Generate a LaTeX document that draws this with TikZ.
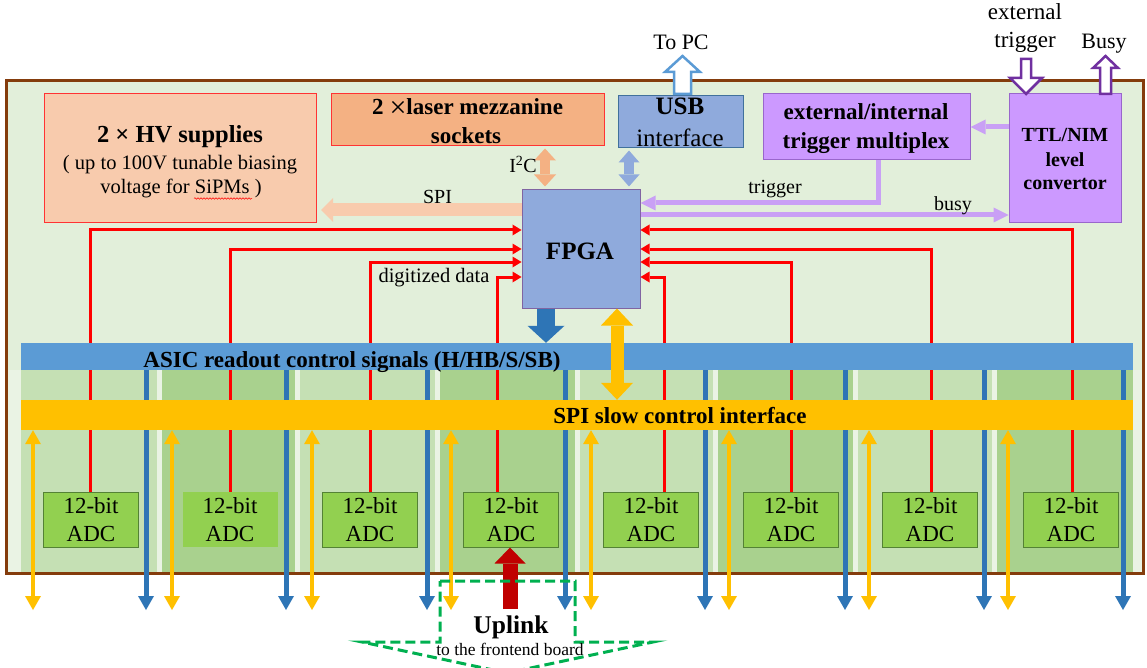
\documentclass[tikz,border=0pt]{standalone}
\usepackage{fontspec}
\setmainfont{Liberation Serif}
\usetikzlibrary{arrows.meta,calc,decorations.pathmorphing}
\definecolor{boardfill}{HTML}{E2EFDA}
\definecolor{boardline}{HTML}{843C0C}
\definecolor{hvfill}{HTML}{F8CBAD}
\definecolor{laserfill}{HTML}{F4B183}
\definecolor{boxred}{HTML}{FF3333}
\definecolor{usbfill}{HTML}{8FAADC}
\definecolor{usbline}{HTML}{41719C}
\definecolor{fpgaline}{HTML}{8064A2}
\definecolor{purpfill}{HTML}{CC99FF}
\definecolor{purpline}{HTML}{9966CC}
\definecolor{purparrow}{HTML}{C9A0F5}
\definecolor{openpurp}{HTML}{7030A0}
\definecolor{lblue}{HTML}{5B9BD5}
\definecolor{dblue}{HTML}{2E75B6}
\definecolor{orng}{HTML}{FFC000}
\definecolor{collight}{HTML}{C5E0B4}
\definecolor{coldark}{HTML}{A9D18E}
\definecolor{colstrip}{HTML}{EAF3E4}
\definecolor{adcfill}{HTML}{92D050}
\definecolor{adcline}{HTML}{548235}
\definecolor{redln}{HTML}{FF0000}
\definecolor{uplinkred}{HTML}{C00000}
\definecolor{dashgreen}{HTML}{00B050}
\newcommand\myfs[1]{\fontsize{#1}{#1}\selectfont}
\tikzset{
  txt/.style={inner sep=0pt, anchor=base},
  box/.style={draw, rectangle, inner sep=0pt, line width=1pt},
  hvbox/.style={box, draw=boxred, fill=hvfill},
  laserbox/.style={box, draw=boxred, fill=laserfill},
  usbbox/.style={box, draw=usbline, fill=usbfill},
  fpgabox/.style={box, draw=fpgaline, fill=usbfill},
  purpbox/.style={box, draw=purpline, fill=purpfill},
  bar/.style={rectangle, inner sep=0pt, minimum width=1112pt},
  adcbox/.style={box, draw=adcline, fill=adcfill, minimum width=95pt, minimum height=55pt, align=center, font=\fontsize{23}{28}\selectfont},
  adcnb/.style={adcbox, draw=none},
  redarr/.style={draw=redln, line width=3pt, -{Triangle[length=9pt,width=11pt,line width=0pt]}},
  bluedown/.style={draw=dblue, line width=5pt, -{Triangle[length=14pt,width=16pt,line width=0pt]}},
  orangedbl/.style={draw=orng, line width=3.5pt, {Triangle[length=14pt,width=16pt,line width=0pt]}-{Triangle[length=14pt,width=16pt,line width=0pt]}},
  purparr/.style={draw=purparrow, line width=5pt, -{Triangle[length=15pt,width=15pt,line width=0pt]}},
  openarr/.style={line width=2.5pt, fill=white, line join=miter},
}
\begin{document}
\begin{tikzpicture}[x=1pt,y=-1pt]
\useasboundingbox (0,0) rectangle (1147,668);
\clip (0,0) rectangle (1147,668);
% board
\draw[boardline, fill=boardfill, line width=3pt] (6.5,80.5) rectangle (1143.5,573.5);
% columns
\foreach \l/\r/\c in {21/157/collight, 162/295/coldark, 300/435/collight, 440/575/coldark, 580/713/collight, 718/853/coldark, 858/992/collight, 997/1133/coldark}
  \fill[\c] (\l,365) rectangle (\r,572);
\foreach \l/\r in {8/21,157/162,295/300,435/440,575/580,713/718,853/858,992/997,1133/1142}
  \fill[colstrip] (\l,370) rectangle (\r,572);
% boxes
\node[hvbox, minimum width=272pt, minimum height=129pt] (hv) at (180,158.5) {};
\node[laserbox, minimum width=273pt, minimum height=52pt] (laser) at (467.5,120) {};
\node[usbbox, minimum width=125pt, minimum height=52pt] (usb) at (680.5,122) {};
\node[fpgabox, minimum width=118pt, minimum height=118pt] (fpga) at (581,249) {};
\node[purpbox, minimum width=207pt, minimum height=66pt] (mux) at (866.5,127) {};
\node[purpbox, minimum width=112pt, minimum height=129pt] (ttl) at (1065,158.5) {};
% ADCs
\node[adcbox] (adc1) at (91,519.5) {12-bit\\ADC};
\node[adcnb] (adc2) at (230,519.5) {12-bit\\ADC};
\node[adcbox] (adc3) at (370,519.5) {12-bit\\ADC};
\node[adcbox] (adc4) at (511,519.5) {12-bit\\ADC};
\node[adcbox] (adc5) at (651,519.5) {12-bit\\ADC};
\node[adcbox] (adc6) at (791,519.5) {12-bit\\ADC};
\node[adcbox] (adc7) at (930,519.5) {12-bit\\ADC};
\node[adcbox] (adc8) at (1071,519.5) {12-bit\\ADC};
% digitized data lines
\foreach \i/\dx/\dy in {1/-1/-19, 2/0/0, 3/0/13, 4/-14/28}
  \draw[redarr] ($(adc\i.north)+(\dx,0)$) |- ($(fpga.west)+(0,\dy)$);
\foreach \i/\dx/\dy in {5/13/28, 6/0/13, 7/1/0, 8/1/-19}
  \draw[redarr] ($(adc\i.north)+(\dx,0)$) |- ($(fpga.east)+(0,\dy)$);
% bars
\node[bar, fill=lblue, minimum height=27pt] (asic) at (577,356.5) {};
\foreach \x [count=\k] in {146,286,427,565,705,845,984,1123} {
  \coordinate (bd\k) at (\x,610);
  \draw[bluedown] (asic.south -| bd\k) -- (bd\k);
}
\node[bar, fill=orng, minimum height=30pt] (spi) at (577,415) {};
\foreach \x [count=\k] in {33,172,312,451,591,729,869,1008} {
  \coordinate (od\k) at (\x,610);
  \draw[orangedbl] (spi.south -| od\k) -- (od\k);
}
\node[txt, font=\bfseries\myfs{23}] (asiclbl) at (352,367) {ASIC readout control signals (H/HB/S/SB)};
\node[txt, font=\bfseries\myfs{23}] (spilbl) at (680,423) {SPI slow control interface};
% box texts
\node[txt, font=\bfseries\myfs{24.5}] (hvt1) at (180,143) {2 × HV supplies};
\node[txt, font=\myfs{20.5}] (hvt2) at (180,170) {( up to 100V tunable biasing};
\node[txt, font=\myfs{20.5}] (hvt3) at (181,194) {voltage for SiPMs )};
\draw[redln, line width=0.5pt, decorate, decoration={snake, amplitude=0.8pt, segment length=3pt}] (194,198.5) -- (252,198.5);
\node[txt, font=\bfseries\myfs{23}] (lt1) at (467.5,115) {2\hspace{6pt}\raisebox{-2.5pt}{\fontsize{30}{30}\selectfont\mdseries ×}laser mezzanine};
\node[txt, font=\bfseries\myfs{23}] (lt2) at (466,144) {sockets};
\node[txt, font=\bfseries\myfs{25}] (ut1) at (680,115) {USB};
\node[txt, font=\myfs{25}] (ut2) at (680,147) {interface};
\node[txt, font=\bfseries\myfs{25}] (ft) at (580,259) {FPGA};
\node[txt, font=\bfseries\myfs{23}] (mt1) at (866,120) {external/internal};
\node[txt, font=\bfseries\myfs{23}] (mt2) at (866,149) {trigger multiplex};
\node[txt, font=\bfseries\myfs{20}] (tt1) at (1065,142) {TTL/NIM};
\node[txt, font=\bfseries\myfs{20}] (tt2) at (1065,167) {level};
\node[txt, font=\bfseries\myfs{20}] (tt3) at (1065,190) {convertor};
% top connectors
\coordinate (spiend) at (321,210);
\draw[line width=13pt, draw=hvfill, -{Triangle[length=12pt,width=24pt,line width=0pt]}] (fpga.west |- spiend) -- (spiend);
\draw[line width=10pt, draw=laserfill, shorten <=2pt, shorten >=3pt, {Triangle[length=12pt,width=22pt,line width=0pt]}-{Triangle[length=12pt,width=22pt,line width=0pt]}] (laser.south -| 545,0) -- (fpga.north -| 545,0);
\draw[line width=10pt, draw=usbfill, shorten <=2pt, shorten >=3pt, {Triangle[length=12pt,width=21pt,line width=0pt]}-{Triangle[length=12pt,width=21pt,line width=0pt]}] (usb.south -| 629,0) -- (fpga.north -| 629,0);
\draw[purparr] (ttl.west |- 0,127) -- (mux.east |- 0,127);
\draw[purparr] (mux.south -| 878,0) |- (fpga.east |- 0,203);
\draw[purparr] (fpga.east |- 0,215) -- (ttl.west |- 0,215);
\node[txt, font=\myfs{20}] (spit) at (437.5,204) {SPI};
\node[txt, font=\myfs{20}] (i2ct) at (523,173) {I\textsuperscript{2}C};
\node[txt, font=\myfs{20}] (trigt) at (775,194) {trigger};
\node[txt, font=\myfs{20}] (busyt) at (953,211) {busy};
\node[txt, font=\myfs{20.5}] (digt) at (434,282) {digitized data};
% fpga to bars
\draw[line width=18pt, draw=dblue, -{Triangle[length=17pt,width=37pt,line width=0pt]}] (fpga.south -| 546,0) -- (asic.north -| 546,0);
\draw[line width=13pt, draw=orng, {Triangle[length=17pt,width=32pt,line width=0pt]}-{Triangle[length=17pt,width=32pt,line width=0pt]}] (fpga.south -| 617,0) -- (spi.north -| 617,0);
% outside open arrows
\draw[openarr, draw=lblue] (674,94) -- (674,72) -- (665,72) -- (682.5,56) -- (700,72) -- (691,72) -- (691,94) -- cycle;
\draw[openarr, draw=openpurp] (1021,59) -- (1031,59) -- (1031,78) -- (1042,78) -- (1026,94) -- (1010,78) -- (1021,78) -- cycle;
\draw[openarr, draw=openpurp] (1100,94) -- (1100,68) -- (1093,68) -- (1105.5,56) -- (1118,68) -- (1111,68) -- (1111,94) -- cycle;
\node[txt, font=\myfs{22}] (topc) at (681,50) {To PC};
\node[txt, font=\myfs{23}] (ext1) at (1025,20) {external};
\node[txt, font=\myfs{23}] (ext2) at (1025,48) {trigger};
\node[txt, font=\myfs{22}] (busyo) at (1104,49) {Busy};
% uplink
\coordinate (upl) at (510,609);
\draw[line width=15pt, draw=uplinkred, -{Triangle[length=16pt,width=31pt,line width=0pt]}] (upl) -- (adc4.south -| upl);
\draw[dashgreen, line width=3pt, dash pattern=on 10pt off 5pt] (440,581) -- (575,581) -- (575,642) -- (653,642) -- (507,673) -- (362,642) -- (440,642) -- cycle;
\node[txt, font=\bfseries\myfs{25.5}] (upt) at (511,633) {Uplink};
\node[txt, font=\myfs{17.5}] (upt2) at (510,655) {to the frontend board};
\end{tikzpicture}
\end{document}
